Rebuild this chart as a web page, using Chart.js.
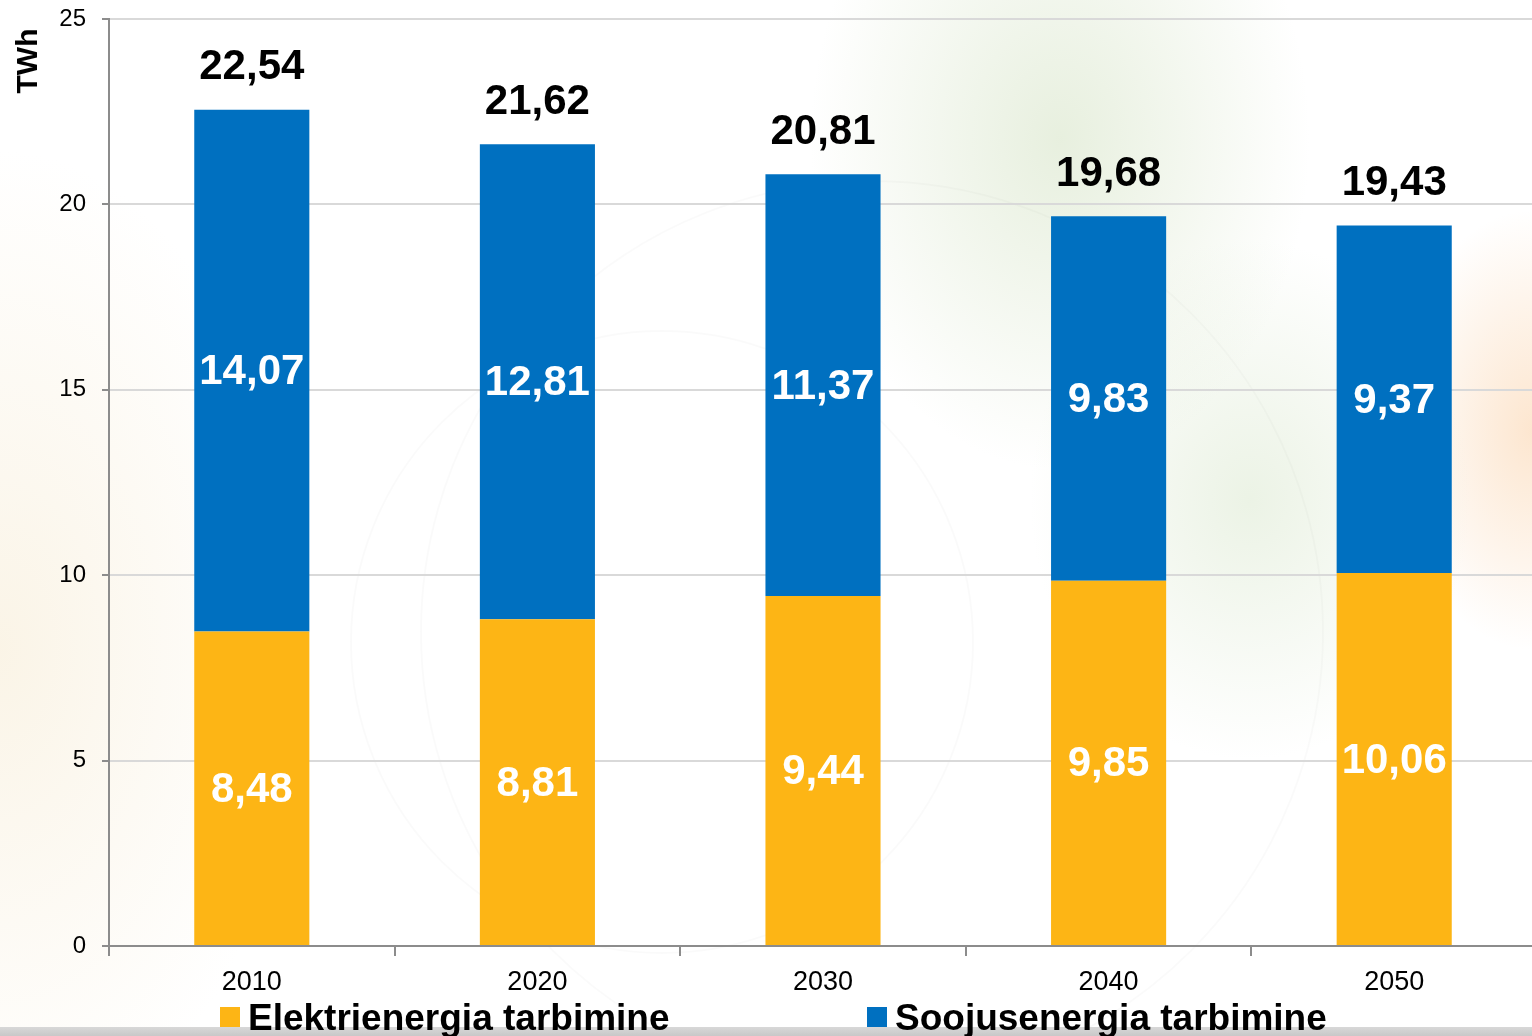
<!DOCTYPE html>
<html>
<head>
<meta charset="utf-8">
<script src="https://cdn.jsdelivr.net/npm/chart.js@4.4.0/dist/chart.umd.min.js"></script>
<style>
    html, body { margin: 0; padding: 0; }
    body {
        width: 1532px; height: 1036px; overflow: hidden; position: relative;
        background:
            radial-gradient(ellipse 250px 330px at 1060px 140px, rgba(208,224,190,0.5), rgba(208,224,190,0) 100%),
            radial-gradient(ellipse 220px 260px at 1250px 500px, rgba(212,228,198,0.45), rgba(212,228,198,0) 100%),
            radial-gradient(ellipse 140px 220px at 1532px 430px, rgba(250,205,160,0.5), rgba(250,205,160,0) 100%),
            radial-gradient(ellipse 300px 500px at 0px 650px, rgba(250,243,228,0.9), rgba(250,243,228,0) 100%),
            #ffffff;
    }
    #strip { position: absolute; left: 0; top: 1027px; width: 1532px; height: 9px; background: linear-gradient(#d8d8d8, #c8c8c8); }
    .ring { position: absolute; border-radius: 50%; border: 2px solid rgba(0,0,0,0.02); }
    #chart { position: absolute; left: 0; top: 0; }
</style>
</head>
<body>
<div class="ring" style="left:350px;top:330px;width:620px;height:620px;"></div>
<div class="ring" style="left:420px;top:180px;width:900px;height:900px;"></div>
<div id="strip"></div>
<canvas id="chart" width="1537" height="1036"></canvas>
<script>
//Chart data
var years = ["2010", "2020", "2030", "2040", "2050"];
var elekter = [8.48, 8.81, 9.44, 9.85, 10.06];
var soojus = [14.07, 12.81, 11.37, 9.83, 9.37];
var totals = [22.54, 21.62, 20.81, 19.68, 19.43];
var seriesNames = ["Elektrienergia tarbimine", "Soojusenergia tarbimine"];

var ORANGE = "#FDB515";
var BLUE = "#0070C0";

function fmt(v) {
    return v.toFixed(2).replace(".", ",");
}

//Value labels, axis title and legend
var labelsPlugin = {
    id: "labelsPlugin",
    afterDatasetsDraw: function(chart) {
        var ctx = chart.ctx;
        ctx.save();
        ctx.textAlign = "center";
        ctx.textBaseline = "middle";
        ctx.font = "bold 42px 'Liberation Sans', Arial, sans-serif";

        chart.data.datasets.forEach(function(ds, di) {
            var meta = chart.getDatasetMeta(di);
            meta.data.forEach(function(bar, i) {
                var mid = (bar.y + bar.base) / 2;
                ctx.fillStyle = "#ffffff";
                ctx.fillText(fmt(ds.data[i]), bar.x, mid + 2);
            });
        });

        //Totals above the stacks
        var top = chart.getDatasetMeta(1);
        top.data.forEach(function(bar, i) {
            ctx.fillStyle = "#000000";
            ctx.fillText(fmt(totals[i]), bar.x, bar.y - 42);
        });

        //Y axis title
        ctx.save();
        ctx.translate(29, 61);
        ctx.rotate(-Math.PI / 2);
        ctx.font = "bold 30px 'Liberation Sans', Arial, sans-serif";
        ctx.fillStyle = "#000000";
        ctx.fillText("TWh", 0, 0);
        ctx.restore();

        //Legend
        var items = [
            {x: 220, color: ORANGE, text: seriesNames[0]},
            {x: 867, color: BLUE, text: seriesNames[1]}
        ];
        ctx.textAlign = "left";
        ctx.textBaseline = "alphabetic";
        ctx.font = "bold 37px 'Liberation Sans', Arial, sans-serif";
        items.forEach(function(it) {
            ctx.fillStyle = it.color;
            ctx.fillRect(it.x, 1007, 20, 20);
            ctx.fillStyle = "#000000";
            ctx.fillText(it.text, it.x + 28, 1030);
        });
        ctx.restore();
    }
};

new Chart(document.getElementById("chart"), {
    type: "bar",
    data: {
        labels: years,
        datasets: [
            {
                label: seriesNames[0],
                data: elekter,
                backgroundColor: ORANGE,
                categoryPercentage: 1,
                barPercentage: 0.403
            },
            {
                label: seriesNames[1],
                data: soojus,
                backgroundColor: BLUE,
                categoryPercentage: 1,
                barPercentage: 0.403
            }
        ]
    },
    options: {
        responsive: false,
        animation: false,
        layout: {
            padding: {top: 19, right: 0, bottom: 0, left: 0}
        },
        plugins: {
            legend: {display: false},
            tooltip: {enabled: false}
        },
        scales: {
            x: {
                stacked: true,
                afterFit: function(scale) { scale.height = 90; },
                grid: {
                    offset: true,
                    drawOnChartArea: false,
                    tickLength: 10,
                    tickColor: "#8c8c8c",
                    lineWidth: 2
                },
                border: {color: "#8c8c8c", width: 2},
                ticks: {
                    color: "#000000",
                    padding: 10,
                    font: {family: "'Liberation Sans', Arial, sans-serif", size: 27}
                }
            },
            y: {
                stacked: true,
                min: 0,
                max: 25,
                afterFit: function(scale) {
                    scale.width = 109;
                    scale.paddingTop = 0;
                    scale.paddingBottom = 0;
                },
                grid: {
                    color: "#d9d9d9",
                    lineWidth: 2,
                    tickColor: "#8c8c8c",
                    tickLength: 7
                },
                border: {color: "#8c8c8c", width: 2},
                ticks: {
                    stepSize: 5,
                    color: "#000000",
                    padding: 16,
                    font: {family: "'Liberation Sans', Arial, sans-serif", size: 24}
                }
            }
        }
    },
    plugins: [labelsPlugin]
});
</script>
</body>
</html>
